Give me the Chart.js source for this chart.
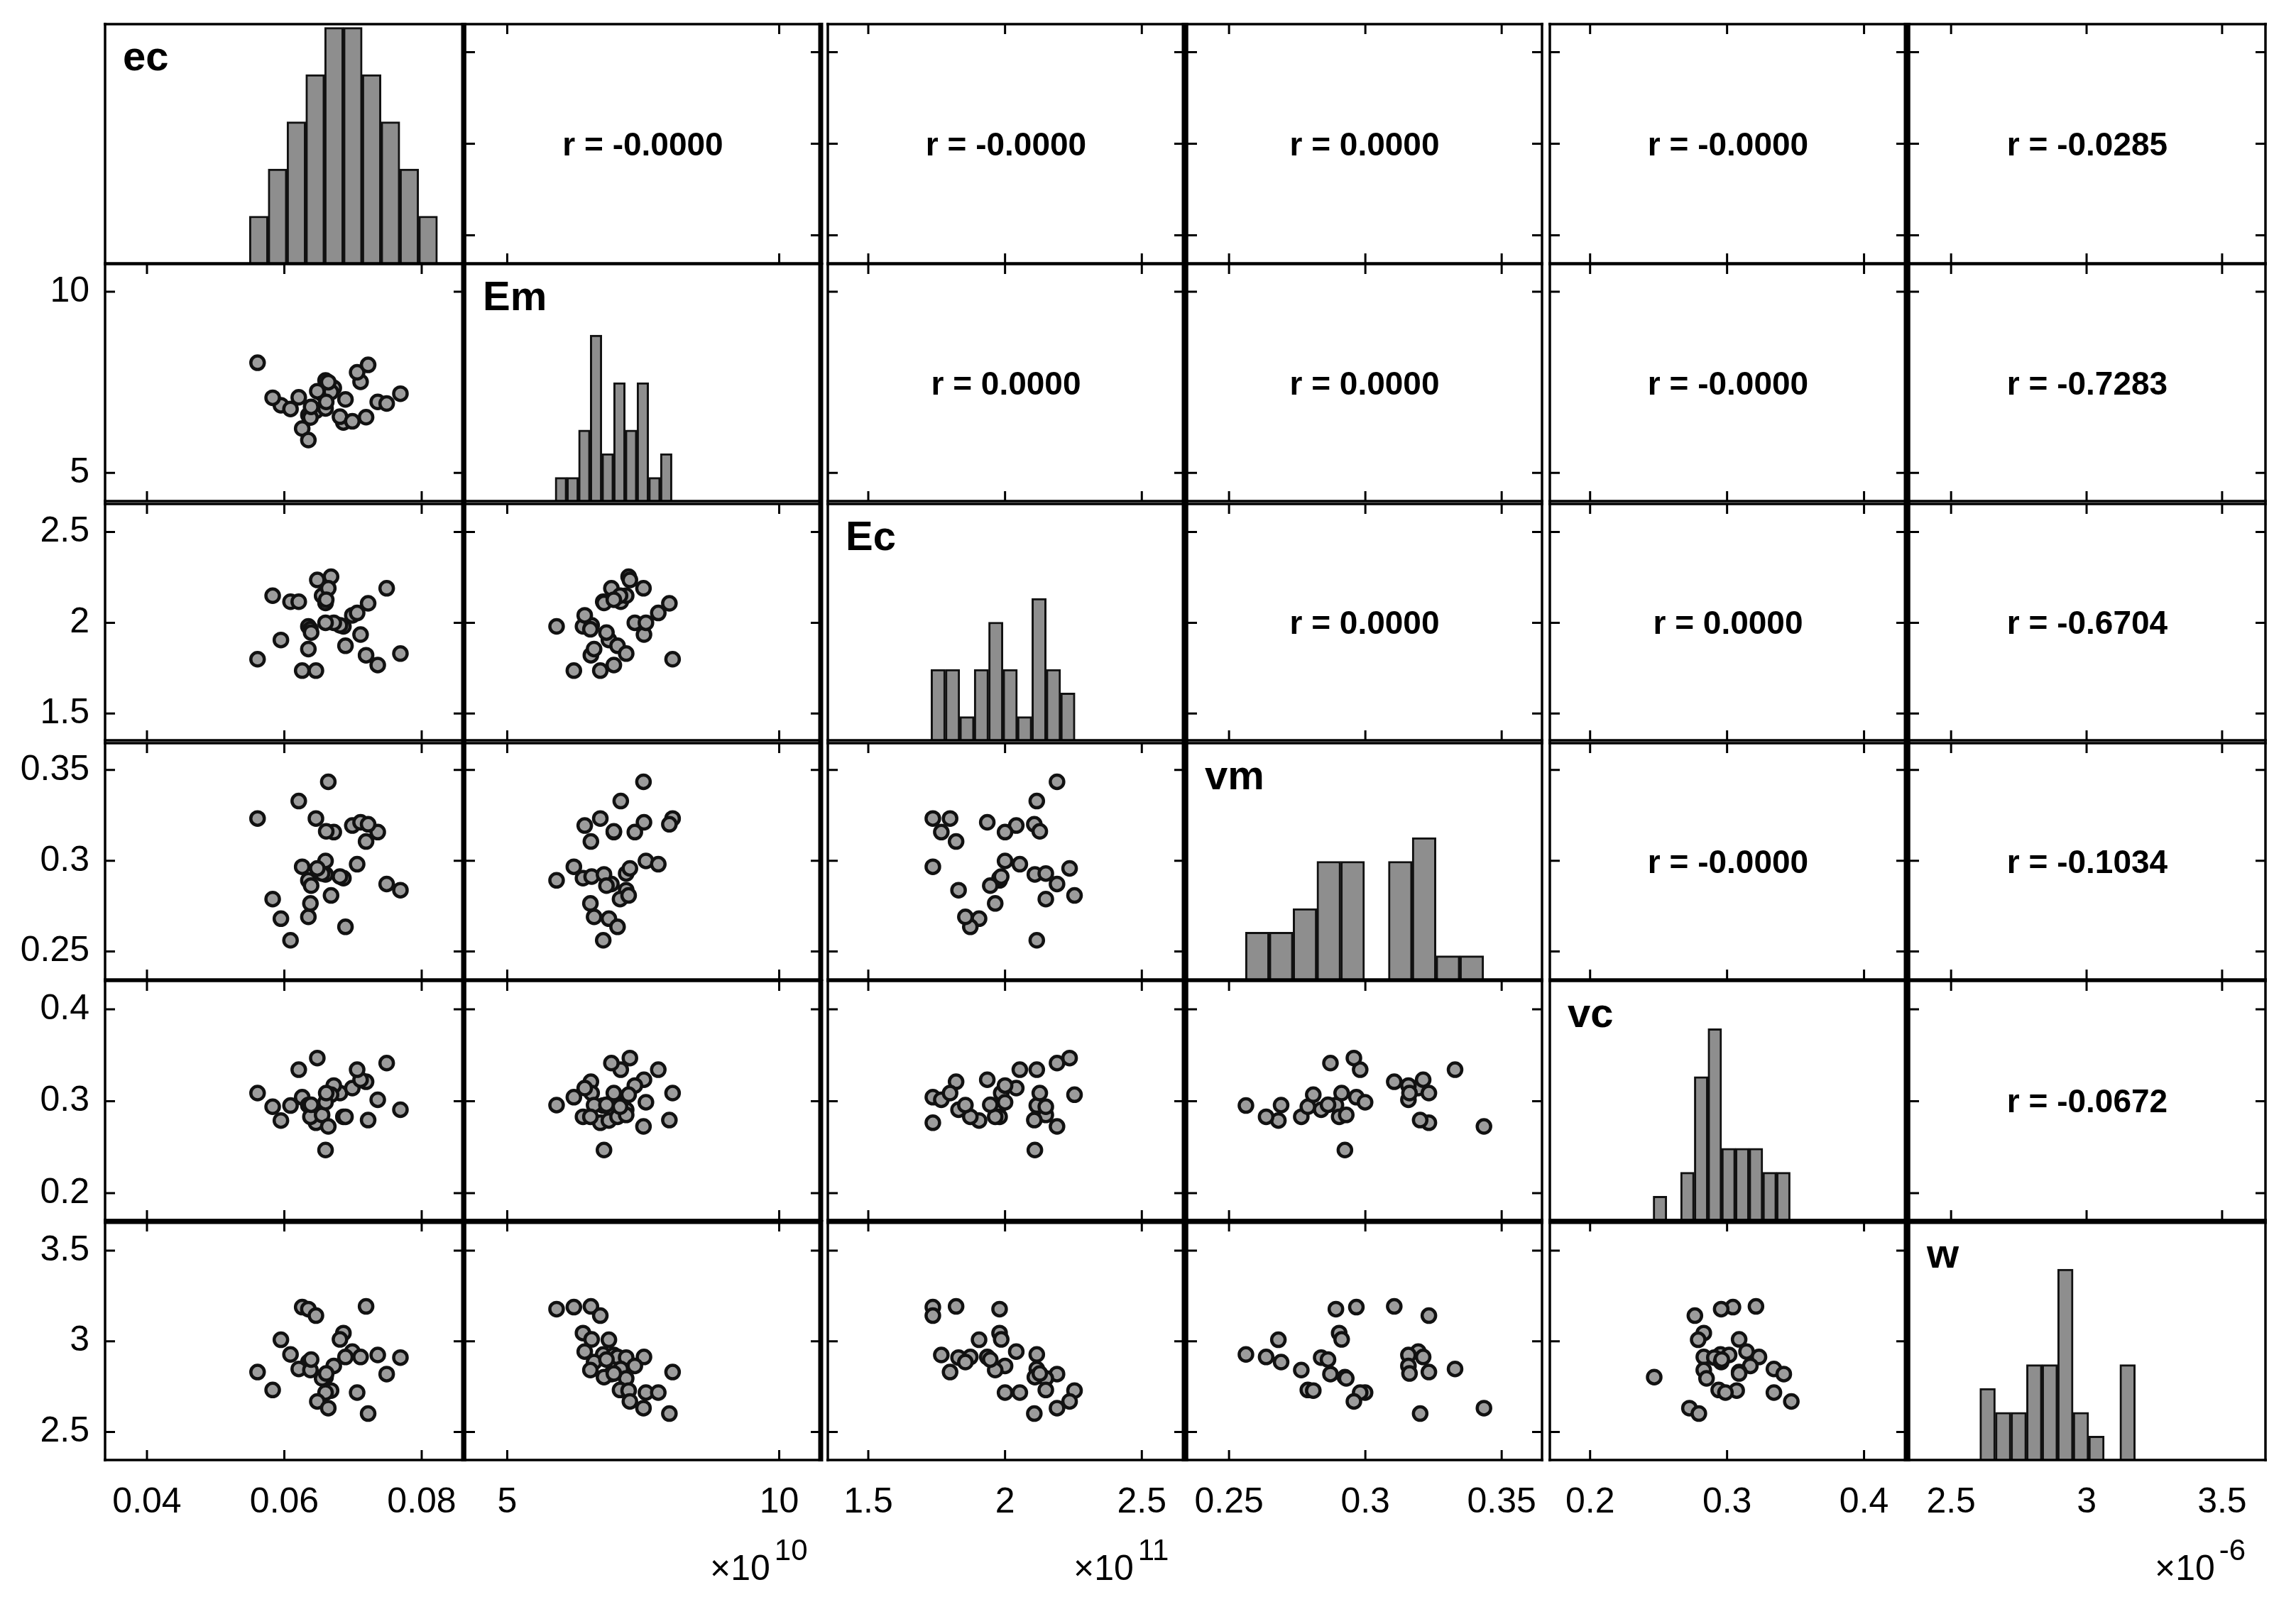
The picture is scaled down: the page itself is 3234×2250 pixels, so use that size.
<!DOCTYPE html>
<html>
<head>
<meta charset="utf-8">
<script src="https://cdn.jsdelivr.net/npm/chart.js@4.4.1/dist/chart.umd.min.js"></script>
<style>
  body { margin: 0; background: #fff; width: 3234px; height: 2250px; position: relative; overflow: hidden; }
  canvas { position: absolute; }
</style>
</head>
<body>
<script>
// variables of the matrix, in row/column order
const varNames = ['ec', 'Em', 'Ec', 'vm', 'vc', 'w'];

// 30 samples (Em x1e10, Ec x1e11, w x1e-6)
const ec = [0.0719, 0.0626, 0.0635, 0.0646, 0.0686, 0.0681, 0.0595, 0.0699, 0.0609, 0.0736,
            0.0689, 0.0711, 0.0769, 0.0635, 0.0672, 0.0621, 0.0638, 0.0561, 0.0749, 0.0660,
            0.0655, 0.0583, 0.0668, 0.0660, 0.0706, 0.0648, 0.0664, 0.0722, 0.0639, 0.0661];
const Em = [6.538, 6.225, 5.907, 6.711, 6.393, 6.552, 6.869, 6.425, 6.765, 6.960,
            7.028, 7.514, 7.187, 6.597, 7.346, 7.087, 6.529, 8.040, 6.915, 6.779,
            7.187, 7.074, 7.232, 7.550, 7.777, 7.255, 7.505, 7.981, 6.824, 6.960];
const Ec = [1.821, 1.736, 1.980, 1.736, 1.980, 1.986, 1.905, 2.041, 2.116, 1.767,
            1.873, 1.935, 1.830, 1.855, 2.000, 2.116, 1.964, 1.799, 2.190, 2.109,
            2.149, 2.149, 2.254, 2.000, 2.054, 2.236, 2.190, 2.107, 1.946, 2.127];
const vm = [0.3106, 0.2967, 0.2892, 0.3233, 0.2904, 0.2913, 0.2681, 0.3194, 0.2562, 0.3158,
            0.2636, 0.3212, 0.2838, 0.2691, 0.3158, 0.3329, 0.2765, 0.3233, 0.2872, 0.2925,
            0.2930, 0.2789, 0.2809, 0.2999, 0.2981, 0.2958, 0.3435, 0.3201, 0.2863, 0.3162];
const vc = [0.3211, 0.3043, 0.2957, 0.2765, 0.2830, 0.3088, 0.2789, 0.3142, 0.2952, 0.3015,
            0.2830, 0.3233, 0.2907, 0.2957, 0.3170, 0.3342, 0.2830, 0.3088, 0.3414, 0.2468,
            0.2850, 0.2939, 0.3070, 0.2988, 0.3342, 0.3469, 0.2725, 0.2794, 0.2961, 0.3088];
const w = [3.192, 3.188, 3.177, 3.141, 3.045, 3.010, 3.008, 2.943, 2.927, 2.924,
           2.913, 2.913, 2.910, 2.885, 2.864, 2.847, 2.841, 2.830, 2.819, 2.802,
           2.795, 2.731, 2.728, 2.717, 2.717, 2.668, 2.631, 2.601, 2.899, 2.822];
const samples = [ec, Em, Ec, vm, vc, w];

// axis limits per variable
const axisMin = [0.0339, 4.224, 1.352, 0.2346, 0.1706, 2.345];
const axisMax = [0.0861, 10.763, 2.655, 0.3648, 0.4308, 3.660];

// ticks
const tickValues = [[0.04, 0.06, 0.08], [5, 10], [1.5, 2, 2.5], [0.25, 0.3, 0.35], [0.2, 0.3, 0.4], [2.5, 3, 3.5]];
const tickLabels = [['0.04', '0.06', '0.08'], ['5', '10'], ['1.5', '2', '2.5'], ['0.25', '0.3', '0.35'], ['0.2', '0.3', '0.4'], ['2.5', '3', '3.5']];
const exponents = [null, '10', '11', null, null, '-6'];

// histograms on the diagonal: 10 bins between histMin and histMax
const histMin = [0.0549, 5.88, 1.729, 0.256, 0.246, 2.606];
const histMax = [0.0823, 8.03, 2.256, 0.3434, 0.3461, 3.180];
const histCounts = [
  [1, 2, 3, 4, 5, 5, 4, 3, 2, 1],
  [1, 1, 3, 7, 2, 5, 3, 5, 1, 2],
  [3, 3, 1, 3, 5, 3, 1, 6, 3, 2],
  [2, 2, 3, 5, 5, 0, 5, 6, 1, 1],
  [1, 0, 2, 6, 8, 3, 3, 3, 2, 2],
  [3, 2, 2, 4, 4, 8, 2, 1, 0, 4]
];
const histTop = [5.07, 10, 10, 10, 10, 10];

// correlation labels, upper triangle
const rLabels = [
  [null, 'r = -0.0000', 'r = -0.0000', 'r = 0.0000', 'r = -0.0000', 'r = -0.0285'],
  [null, null, 'r = 0.0000', 'r = 0.0000', 'r = -0.0000', 'r = -0.7283'],
  [null, null, null, 'r = 0.0000', 'r = 0.0000', 'r = -0.6704'],
  [null, null, null, null, 'r = -0.0000', 'r = -0.1034'],
  [null, null, null, null, null, 'r = -0.0672']
];

// panel boxes on the page
const panelLeft = [148, 655, 1166, 1672, 2183, 2689];
const panelRight = [653, 1156, 1668, 2172, 2685, 3191];
const panelTop = [34, 372, 710, 1047, 1382, 1721];
const panelBottom = [371, 706, 1043, 1380, 1719, 2057];
const thickRight = [true, true, true, false, true, false];

const FONT = '"Liberation Sans", Arial, Helvetica, sans-serif';
const PAGE_H = 2250;

const framePlugin = {
  id: 'frame',
  afterDatasetsDraw(chart, args, opts) {
    const ctx = chart.ctx;
    const a = chart.chartArea;
    const sx = chart.scales.x, sy = chart.scales.y;
    ctx.save();
    ctx.strokeStyle = '#000';
    ctx.fillStyle = '#000';

    // inward tick marks on all four sides
    if (opts.ticks) {
      ctx.lineWidth = 3;
      ctx.beginPath();
      tickValues[opts.col].forEach(v => {
        const px = sx.getPixelForValue(v);
        ctx.moveTo(px, a.bottom); ctx.lineTo(px, a.bottom - 14);
        ctx.moveTo(px, a.top); ctx.lineTo(px, a.top + 14);
      });
      tickValues[opts.row].forEach(v => {
        const py = sy.getPixelForValue(v);
        ctx.moveTo(a.left, py); ctx.lineTo(a.left + 14, py);
        ctx.moveTo(a.right, py); ctx.lineTo(a.right - 14, py);
      });
      ctx.stroke();
    }

    // box
    const side = (x1, y1, x2, y2, lw) => {
      ctx.lineWidth = lw;
      ctx.beginPath(); ctx.moveTo(x1, y1); ctx.lineTo(x2, y2); ctx.stroke();
    };
    const topW = opts.row === 5 ? 7 : 3.5;
    const rightW = thickRight[opts.col] ? 7 : 3.5;
    side(a.left - 2, a.top, a.right + 2, a.top, topW);
    side(a.left - 2, a.bottom, a.right + 2, a.bottom, 3.5);
    side(a.left, a.top - 2, a.left, a.bottom + 2, 3.5);
    side(a.right, a.top - 2, a.right, a.bottom + 2, rightW);

    // variable name on the diagonal
    if (opts.name) {
      ctx.font = 'bold 58px ' + FONT;
      ctx.textAlign = 'left';
      ctx.textBaseline = 'alphabetic';
      ctx.fillText(opts.name, a.left + 25, a.top + 65);
    }

    // correlation text
    if (opts.rText) {
      ctx.font = 'bold 46px ' + FONT;
      ctx.textAlign = 'center';
      ctx.textBaseline = 'middle';
      ctx.fillText(opts.rText, (a.left + a.right) / 2, (a.top + a.bottom) / 2 + 4);
    }

    // axis exponent under the bottom row
    if (opts.exponent) {
      ctx.textAlign = 'left';
      ctx.textBaseline = 'alphabetic';
      ctx.font = '50px ' + FONT;
      const x0 = a.right - 156, y0 = a.bottom + 169;
      ctx.fillText('\u00d710', x0, y0);
      const wMain = ctx.measureText('\u00d710').width;
      ctx.font = '42px ' + FONT;
      ctx.fillText(opts.exponent, x0 + wMain + 6, y0 - 28);
    }
    ctx.restore();
  }
};

function labelFor(v, val) {
  const i = tickValues[v].findIndex(t => Math.abs(t - val) < 1e-9);
  return i >= 0 ? tickLabels[v][i] : '';
}

// fixed axis size, no extra room for overhanging labels
function fixSize(s, isX, size) {
  if (isX) s.height = size; else s.width = size;
  s.paddingLeft = 0; s.paddingRight = 0; s.paddingTop = 0; s.paddingBottom = 0;
}

function axisOptions(v, show, isX, size) {
  return {
    type: 'linear',
    min: axisMin[v],
    max: axisMax[v],
    offset: false,
    display: show,
    grid: { display: false, drawTicks: false },
    border: { display: false },
    ticks: {
      display: show,
      padding: isX ? 30 : 22,
      color: '#000',
      autoSkip: false,
      maxRotation: 0,
      font: { family: FONT, size: 50 },
      callback: val => labelFor(v, val)
    },
    afterBuildTicks: s => { s.ticks = tickValues[v].map(t => ({ value: t })); },
    afterFit: s => fixSize(s, isX, size)
  };
}

function makePanel(r, c) {
  const isDiag = r === c;
  const isUpper = c > r;
  const showY = c === 0 && r > 0;
  const showX = r === 5;
  const padL = c === 0 ? panelLeft[0] : 4;
  const padB = showX ? PAGE_H - panelBottom[5] : 4;

  const left = panelLeft[c] - padL;
  const top = panelTop[r] - 4;
  const cw = panelRight[c] - panelLeft[c] + padL + 4;
  const ch = panelBottom[r] - panelTop[r] + 4 + padB;

  const canvas = document.createElement('canvas');
  canvas.width = cw; canvas.height = ch;
  canvas.style.left = left + 'px';
  canvas.style.top = top + 'px';
  canvas.style.width = cw + 'px';
  canvas.style.height = ch + 'px';
  document.body.appendChild(canvas);

  const xAxis = axisOptions(c, showX, true, showX ? padB : 0);
  let yAxis;
  let config;

  if (isDiag) {
    const binW = (histMax[c] - histMin[c]) / histCounts[c].length;
    // the first column keeps an empty axis strip so the box lines up with the others
    yAxis = {
      type: 'linear', min: 0, max: histTop[c], display: c === 0,
      grid: { display: false, drawTicks: false }, border: { display: false }, ticks: { display: false },
      afterFit: s => fixSize(s, false, c === 0 ? padL : 0)
    };
    config = {
      type: 'bar',
      data: {
        datasets: [{
          data: histCounts[c].map((n, i) => ({ x: histMin[c] + (i + 0.5) * binW, y: n })),
          backgroundColor: '#8e8e8e',
          borderColor: '#111',
          borderWidth: 3,
          borderSkipped: 'bottom',
          barPercentage: 1,
          categoryPercentage: 1
        }]
      }
    };
  } else {
    yAxis = axisOptions(r, showY, false, c === 0 ? padL : 0);
    config = {
      type: 'scatter',
      data: {
        datasets: [{
          data: isUpper ? [] : samples[c].map((v, i) => ({ x: v, y: samples[r][i] })),
          pointRadius: 9.5,
          pointBorderWidth: 4.5,
          pointBackgroundColor: '#9c9c9c',
          pointBorderColor: '#111',
          backgroundColor: '#9c9c9c',
          borderColor: '#111'
        }]
      }
    };
  }

  config.options = {
    responsive: false,
    animation: false,
    devicePixelRatio: 1,
    events: [],
    layout: {
      autoPadding: false,
      padding: { left: c === 0 ? 0 : 4, right: 4, top: 4, bottom: showX ? 0 : 4 }
    },
    scales: { x: xAxis, y: yAxis },
    plugins: {
      legend: { display: false },
      tooltip: { enabled: false },
      frame: {
        row: r,
        col: c,
        ticks: !isDiag,
        name: isDiag ? varNames[c] : null,
        rText: isUpper ? rLabels[r][c] : null,
        exponent: showX ? exponents[c] : null
      }
    }
  };
  config.plugins = [framePlugin];
  new Chart(canvas.getContext('2d'), config);
}

for (let r = 0; r < 6; r++) {
  for (let c = 0; c < 6; c++) {
    makePanel(r, c);
  }
}
</script>
</body>
</html>
